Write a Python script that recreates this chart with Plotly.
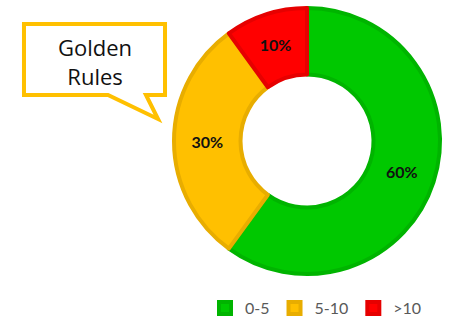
import plotly.graph_objects as go

# Share of items by range
categories = ["0-5", "5-10", ">10"]
shares = [60, 30, 10]
fill_colors = ["#00C800", "#FFC000", "#FF0000"]
edge_colors = ["#00B400", "#E8AD00", "#E60000"]

W, H = 450, 325


def px(x, y):
    """Pixel position -> paper coordinates."""
    return x / W, 1 - y / H


fig = go.Figure(
    go.Pie(
        labels=categories,
        values=shares,
        hole=0.5,
        sort=False,
        direction="clockwise",
        rotation=0,
        marker=dict(colors=fill_colors, line=dict(color=edge_colors, width=4)),
        texttemplate="%{percent:.0%}",
        textposition="inside",
        insidetextorientation="horizontal",
        textfont=dict(family="Lato", size=16, color="#111111", weight="bold"),
        domain=dict(x=[174 / W, 440 / W], y=[1 - 274 / H, 1 - 8 / H]),
        showlegend=True,
    )
)

# Speech-bubble callout with a tail pointing at the ring
pts = [(24, 24), (165, 24), (165, 95), (146, 95), (158, 119), (108, 95), (24, 95)]
path = "M " + " L ".join(f"{px(x, y)[0]:.4f},{px(x, y)[1]:.4f}" for x, y in pts) + " Z"
fig.add_shape(
    type="path",
    path=path,
    xref="paper",
    yref="paper",
    line=dict(color="#FFC000", width=4),
    fillcolor="white",
    layer="above",
)
cx, cy = px(95, 61)
fig.add_annotation(
    x=cx,
    y=cy,
    xref="paper",
    yref="paper",
    xanchor="center",
    yanchor="middle",
    text="Golden<br>Rules",
    showarrow=False,
    font=dict(family="Open Sans", size=22, color="#111111"),
    align="center",
)

fig.update_layout(
    width=W,
    height=H,
    margin=dict(l=0, r=0, t=0, b=0),
    paper_bgcolor="white",
    plot_bgcolor="white",
    legend=dict(
        orientation="h",
        x=316 / W,
        xanchor="center",
        y=0.0,
        yanchor="bottom",
        font=dict(family="Lato", size=16, color="#595959"),
        itemwidth=30,
        tracegroupgap=0,
    ),
)

fig.write_html("out.html")
